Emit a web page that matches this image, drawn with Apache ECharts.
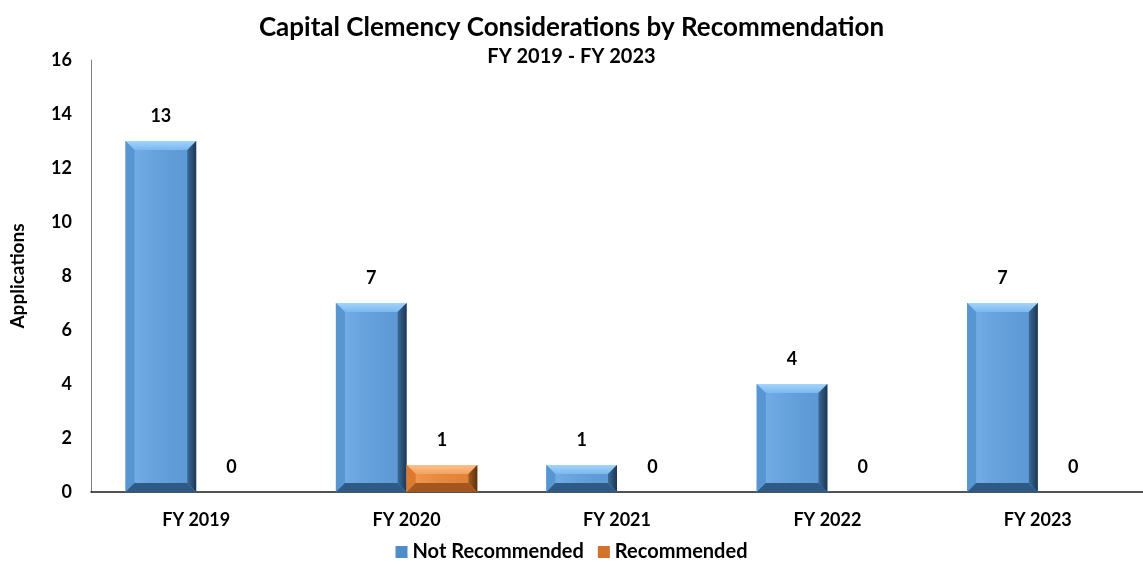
<!DOCTYPE html>
<html>
<head>
<meta charset="utf-8">
<script src="https://cdn.jsdelivr.net/npm/echarts@6/dist/echarts.min.js"></script>
<style>
html, body { margin: 0; padding: 0; background: #fff; }
#chart { width: 1143px; height: 568px; }
</style>
</head>
<body>
<div id="chart"></div>
<script>
// data
var categories = ["FY 2019", "FY 2020", "FY 2021", "FY 2022", "FY 2023"];
var notRecommended = [13, 7, 1, 4, 7];
var recommended = [0, 1, 0, 0, 0];
var yTicks = [0, 2, 4, 6, 8, 10, 12, 14, 16];

var FONT = "Lato";

// 斜面柱子的配色
var blueTone = {
    body: "#62a3e3", top: ["#a3d4fb", "#7ab8ef"], left: "#5896d2",
    right: ["#3a6a9a", "#1d3650"], bottom: "#2f5a86"
};
var orangeTone = {
    body: "#ef8a3a", top: ["#fbc08a", "#f5a25e"], left: "#dc7a2f",
    right: ["#a65a1e", "#5a300e"], bottom: "#a45620"
};

function lin(x0, y0, x1, y1, c0, c1) {
    return new echarts.graphic.LinearGradient(x0, y0, x1, y1, [
        { offset: 0, color: c0 },
        { offset: 1, color: c1 }
    ]);
}

function bevelRender(side, tone) {
    return function (params, api) {
        var i = api.value(0);
        var v = api.value(1);
        var base = api.coord([i, 0]);
        var top = api.coord([i, v]);
        var cw = api.size([1, 0])[0];
        var bw = cw * 0.336;
        var x = side < 0 ? base[0] - bw : base[0];
        var y = top[1];
        var h = base[1] - top[1];
        var children = [];
        if (h > 0) {
            var b = Math.min(9, h / 3, bw / 2);
            var x2 = x + bw, y2 = y + h;
            children.push({ type: "rect", shape: { x: x, y: y, width: bw, height: h }, style: { fill: tone.body } });
            // inner soft stripe
            children.push({
                type: "rect",
                shape: { x: x + b, y: y + b, width: bw - 2 * b, height: Math.max(0, h - 2 * b) },
                style: { fill: lin(0, 0, 1, 0, "rgba(255,255,255,0.10)", "rgba(0,0,0,0.06)") }
            });
            children.push({ type: "polygon", shape: { points: [[x, y], [x2, y], [x2 - b, y + b], [x + b, y + b]] },
                style: { fill: lin(0, 0, 0, 1, tone.top[0], tone.top[1]) } });
            children.push({ type: "polygon", shape: { points: [[x, y], [x + b, y + b], [x + b, y2 - b], [x, y2]] },
                style: { fill: tone.left } });
            children.push({ type: "polygon", shape: { points: [[x2, y], [x2, y2], [x2 - b, y2 - b], [x2 - b, y + b]] },
                style: { fill: lin(0, 0, 1, 0, tone.right[0], tone.right[1]) } });
            children.push({ type: "polygon", shape: { points: [[x, y2], [x + b, y2 - b], [x2 - b, y2 - b], [x2, y2]] },
                style: { fill: tone.bottom } });
        }
        children.push({
            type: "text",
            style: {
                text: String(v), x: x + bw / 2, y: y - 25,
                fill: "#000", font: "bold 18px " + FONT, align: "center", verticalAlign: "middle"
            }
        });
        return { type: "group", children: children };
    };
}

var chart = echarts.init(document.getElementById("chart"));

chart.setOption({
    backgroundColor: "#fff",
    animation: false,
    title: {
        text: "Capital Clemency Considerations by Recommendation",
        subtext: "FY 2019 - FY 2023",
        left: "center",
        top: 10,
        itemGap: 6,
        textStyle: { fontFamily: FONT, fontWeight: "bold", fontSize: 26, color: "#000" },
        subtextStyle: { fontFamily: FONT, fontWeight: "bold", fontSize: 20, color: "#000" }
    },
    legend: {
        bottom: 1,
        left: "center",
        icon: "rect",
        itemWidth: 12,
        itemHeight: 12,
        itemGap: 14,
        itemStyle: { borderWidth: 0 },
        textStyle: { fontFamily: FONT, fontWeight: "bold", fontSize: 20, color: "#000" },
        data: ["Not Recommended", "Recommended"]
    },
    grid: { left: 91, right: 0, top: 60, bottom: 76, outerBoundsMode: "none" },
    xAxis: {
        type: "category",
        data: categories,
        axisTick: { show: false },
        axisLine: { lineStyle: { color: "#1a1a1a", width: 1.5 } },
        axisLabel: { margin: 19, fontFamily: FONT, fontWeight: "bold", fontSize: 18, color: "#000" }
    },
    yAxis: {
        type: "value",
        min: yTicks[0],
        max: yTicks[yTicks.length - 1],
        interval: 2,
        name: "Applications",
        nameLocation: "middle",
        nameRotate: 90,
        nameGap: 64,
        nameTextStyle: { fontFamily: FONT, fontWeight: "bold", fontSize: 19, color: "#000" },
        axisLine: { show: true, lineStyle: { color: "#7f7f7f", width: 1 } },
        axisTick: { show: false },
        splitLine: { show: false },
        axisLabel: { margin: 19, fontFamily: FONT, fontWeight: "bold", fontSize: 18, color: "#000" }
    },
    series: [
        {
            name: "Not Recommended",
            type: "custom",
            itemStyle: { color: "#4f8dc9" },
            encode: { x: 0, y: 1 },
            data: notRecommended.map(function (v, i) { return [i, v]; }),
            renderItem: bevelRender(-1, blueTone)
        },
        {
            name: "Recommended",
            type: "custom",
            itemStyle: { color: "#d2732b" },
            encode: { x: 0, y: 1 },
            data: recommended.map(function (v, i) { return [i, v]; }),
            renderItem: bevelRender(1, orangeTone)
        }
    ]
});
</script>
</body>
</html>
